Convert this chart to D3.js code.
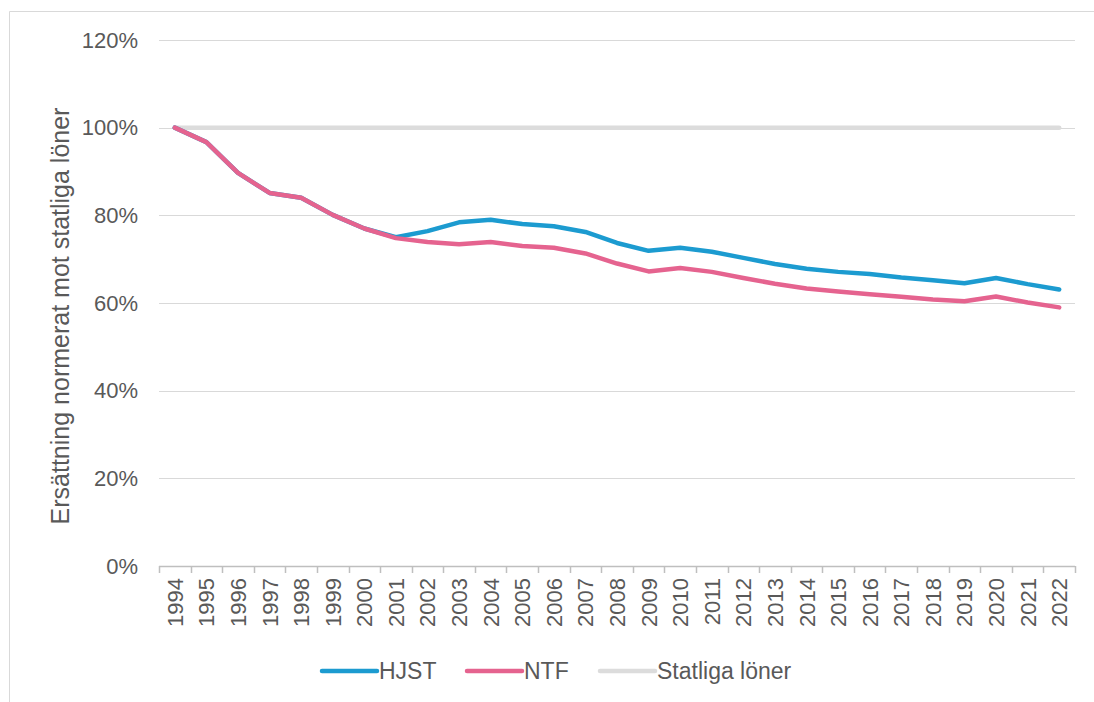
<!DOCTYPE html>
<html><head><meta charset="utf-8"/>
<title>Ersättning normerat mot statliga löner</title>
<script src="https://d3js.org/d3.v7.min.js"></script>
<style>
  body { margin: 0; padding: 0; background: #fff; }
  svg text { font-family: "Liberation Sans", Arial, sans-serif; fill: #595959; }
</style>
</head>
<body>
<div id="chart"></div>
<script>
// data
const years = ["1994","1995","1996","1997","1998","1999","2000","2001","2002","2003","2004","2005","2006","2007","2008","2009","2010","2011","2012","2013","2014","2015","2016","2017","2018","2019","2020","2021","2022"];
const hjst = [100, 96.7, 89.7, 85.1, 84.0, 80.1, 77.0, 75.0, 76.4, 78.4, 79.0, 78.0, 77.5, 76.2, 73.7, 71.9, 72.6, 71.7, 70.3, 68.9, 67.8, 67.1, 66.6, 65.8, 65.2, 64.5, 65.7, 64.3, 63.1];
const ntf  = [100, 96.7, 89.7, 85.1, 84.0, 80.1, 77.0, 74.8, 73.9, 73.4, 73.9, 73.0, 72.6, 71.3, 69.0, 67.2, 68.0, 67.1, 65.7, 64.4, 63.3, 62.6, 62.0, 61.4, 60.8, 60.4, 61.5, 60.1, 59.0];
const statliga = years.map(() => 100);
const yTicks = [0, 20, 40, 60, 80, 100, 120];

const series = [
  { name: "HJST", values: hjst, color: "#1C9BD0" },
  { name: "NTF", values: ntf, color: "#E5638F" },
  { name: "Statliga löner", values: statliga, color: "#DCDCDC" }
];

const W = 1094, H = 702;
const pLeft = 159, pRight = 1075, pTop = 40, pBottom = 566;
const fs = 22;

const svg = d3.select("#chart").append("svg")
  .attr("width", W).attr("height", H);

// outer frame (only top & left visible in the reference)
svg.append("line").attr("x1", 9.5).attr("x2", W).attr("y1", 11.5).attr("y2", 11.5)
  .attr("stroke", "#D9D9D9").attr("stroke-width", 1);
svg.append("line").attr("x1", 9.5).attr("x2", 9.5).attr("y1", 11.5).attr("y2", H)
  .attr("stroke", "#D9D9D9").attr("stroke-width", 1);

const x = d3.scaleBand().domain(years).range([pLeft, pRight]);
const y = d3.scaleLinear().domain([0, 120]).range([pBottom, pTop]);

// gridlines
svg.append("g").selectAll("line").data(yTicks.filter(d => d > 0)).join("line")
  .attr("x1", pLeft).attr("x2", pRight)
  .attr("y1", d => Math.round(y(d)) + 0.5).attr("y2", d => Math.round(y(d)) + 0.5)
  .attr("stroke", "#D9D9D9").attr("stroke-width", 1);

// y axis labels
svg.append("g").selectAll("text").data(yTicks).join("text")
  .attr("x", 138).attr("y", d => y(d))
  .attr("dy", "0.35em").attr("text-anchor", "end")
  .attr("font-size", fs).text(d => d + "%");

// y axis title
svg.append("text")
  .attr("transform", "translate(69,316) rotate(-90)")
  .attr("text-anchor", "middle").attr("font-size", 25)
  .text("Ersättning normerat mot statliga löner");

// x axis line + tick marks between categories
const xAxis = svg.append("g");
xAxis.append("line").attr("x1", pLeft).attr("x2", pRight)
  .attr("y1", pBottom + 0.5).attr("y2", pBottom + 0.5)
  .attr("stroke", "#BFBFBF").attr("stroke-width", 1.5);
const bounds = years.map(d => x(d)).concat([pRight]);
xAxis.selectAll("line.tick").data(bounds).join("line").attr("class", "tick")
  .attr("x1", d => Math.round(d) + 0.5).attr("x2", d => Math.round(d) + 0.5)
  .attr("y1", pBottom).attr("y2", pBottom + 7)
  .attr("stroke", "#BFBFBF").attr("stroke-width", 1.5);
xAxis.selectAll("text").data(years).join("text")
  .attr("transform", d => "translate(" + (x(d) + x.bandwidth() / 2 + 8) + "," + (pBottom + 12) + ") rotate(-90)")
  .attr("text-anchor", "end").attr("font-size", fs)
  .text(d => d);

// lines (grey reference drawn first)
const line = d3.line()
  .x((d, i) => x(years[i]) + x.bandwidth() / 2)
  .y(d => y(d));
[series[2], series[0], series[1]].forEach(s => {
  svg.append("path").datum(s.values)
    .attr("d", line)
    .attr("fill", "none")
    .attr("stroke", s.color)
    .attr("stroke-width", 4.5)
    .attr("stroke-linejoin", "round")
    .attr("stroke-linecap", "round");
});

// legend
const legendPos = [322, 467, 600];
const lg = svg.append("g").selectAll("g").data(series).join("g")
  .attr("transform", (d, i) => "translate(" + legendPos[i] + ",671)");
lg.append("line").attr("x1", 0).attr("x2", 55)
  .attr("stroke", d => d.color).attr("stroke-width", 4.5).attr("stroke-linecap", "round");
lg.append("text").attr("x", 57).attr("dy", "0.36em").attr("font-size", 23)
  .text(d => d.name);
</script>
</body></html>
